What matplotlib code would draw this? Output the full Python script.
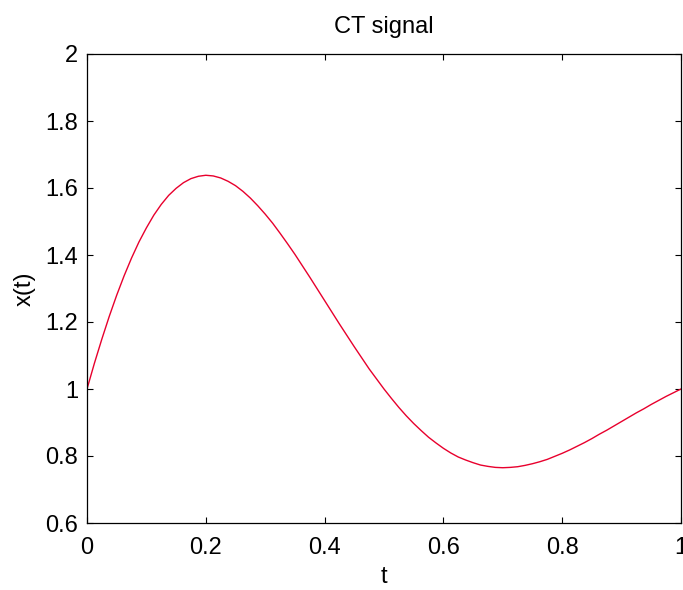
import matplotlib
matplotlib.use("Agg")
import matplotlib.pyplot as plt

# Samples of the signal, every 0.0125 s
t = [0.0000, 0.0125, 0.0250, 0.0375, 0.0500, 0.0625, 0.0750, 0.0875,
     0.1000, 0.1125, 0.1250, 0.1375, 0.1500, 0.1625, 0.1750, 0.1875,
     0.2000, 0.2125, 0.2250, 0.2375, 0.2500, 0.2625, 0.2750, 0.2875,
     0.3000, 0.3125, 0.3250, 0.3375, 0.3500, 0.3625, 0.3750, 0.3875,
     0.4000, 0.4125, 0.4250, 0.4375, 0.4500, 0.4625, 0.4750, 0.4875,
     0.5000, 0.5125, 0.5250, 0.5375, 0.5500, 0.5625, 0.5750, 0.5875,
     0.6000, 0.6125, 0.6250, 0.6375, 0.6500, 0.6625, 0.6750, 0.6875,
     0.7000, 0.7125, 0.7250, 0.7375, 0.7500, 0.7625, 0.7750, 0.7875,
     0.8000, 0.8125, 0.8250, 0.8375, 0.8500, 0.8625, 0.8750, 0.8875,
     0.9000, 0.9125, 0.9250, 0.9375, 0.9500, 0.9625, 0.9750, 0.9875,
     1.0000]
x = [1.000, 1.077, 1.149, 1.217, 1.280, 1.338, 1.391, 1.439,
     1.481, 1.519, 1.551, 1.578, 1.599, 1.616, 1.628, 1.635,
     1.638, 1.636, 1.630, 1.620, 1.607, 1.590, 1.570, 1.547,
     1.522, 1.495, 1.465, 1.434, 1.402, 1.368, 1.334, 1.299,
     1.264, 1.229, 1.194, 1.160, 1.126, 1.093, 1.060, 1.030,
     1.000, 0.972, 0.945, 0.920, 0.897, 0.876, 0.856, 0.839,
     0.823, 0.809, 0.797, 0.788, 0.780, 0.773, 0.769, 0.766,
     0.765, 0.766, 0.768, 0.772, 0.777, 0.783, 0.790, 0.799,
     0.808, 0.818, 0.829, 0.840, 0.852, 0.865, 0.877, 0.890,
     0.903, 0.916, 0.929, 0.941, 0.954, 0.966, 0.978, 0.989,
     1.000]

xticks = [0, 0.2, 0.4, 0.6, 0.8, 1]
xtick_labels = ["0", "0.2", "0.4", "0.6", "0.8", "1"]
yticks = [0.6, 0.8, 1.0, 1.2, 1.4, 1.6, 1.8, 2.0]
ytick_labels = ["0.6", "0.8", "1", "1.2", "1.4", "1.6", "1.8", "2"]

plt.rcParams["font.family"] = ["Liberation Sans", "DejaVu Sans"]
FS = 17

fig = plt.figure(figsize=(6.83, 5.90), dpi=100)
ax = fig.add_axes([87 / 683, 67 / 590, (681 - 87) / 683, (523 - 54) / 590])

ax.plot(t, x, color="#e8002d", linewidth=1.0)

ax.set_xlim(0, 1)
ax.set_ylim(0.6, 2.0)
ax.set_xticks(xticks)
ax.set_xticklabels(xtick_labels)
ax.set_yticks(yticks)
ax.set_yticklabels(ytick_labels)

ax.tick_params(direction="in", length=4.5, width=0.8, labelsize=FS,
               top=True, right=True)
ax.tick_params(axis="x", pad=10)
ax.tick_params(axis="y", pad=6.5)
for s in ax.spines.values():
    s.set_linewidth(0.9)

ax.set_title("CT signal", fontsize=FS, pad=15)
ax.set_xlabel("t", fontsize=FS, labelpad=5)
ax.set_ylabel("x(t)", fontsize=FS, labelpad=7)

fig.savefig("out.png", dpi=100)
